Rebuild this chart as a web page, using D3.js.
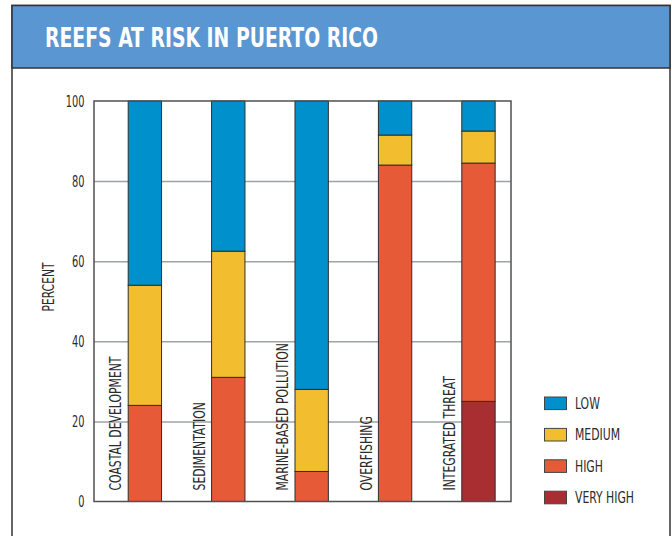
<!DOCTYPE html>
<html>
<head>
<meta charset="utf-8">
<script src="https://cdn.jsdelivr.net/npm/d3@7/dist/d3.min.js"></script>
<style>
  html, body { margin: 0; padding: 0; background: #fff; }
  svg { display: block; }
  text { font-family: "Liberation Sans Narrow", "Arial Narrow", "DejaVu Sans Condensed", sans-serif; }
</style>
</head>
<body>
<svg id="chart" width="672" height="536"></svg>
<script>
const title = "REEFS AT RISK IN PUERTO RICO";
const yAxisLabel = "PERCENT";
const categories = ["COASTAL DEVELOPMENT", "SEDIMENTATION", "MARINE-BASED POLLUTION", "OVERFISHING", "INTEGRATED THREAT"];
const seriesNames = ["VERY HIGH", "HIGH", "MEDIUM", "LOW"];
const veryHigh = [0, 0, 0, 0, 25];
const high = [24, 31, 7.5, 84, 59.5];
const medium = [30, 31.5, 20.5, 7.5, 8];
const low = [46, 37.5, 72, 8.5, 7.5];
const yTicks = [0, 20, 40, 60, 80, 100];
const legendOrder = ["LOW", "MEDIUM", "HIGH", "VERY HIGH"];
const colors = { "LOW": "#0091cd", "MEDIUM": "#f2bd2f", "HIGH": "#e75a38", "VERY HIGH": "#a82e31" };

const svg = d3.select("#chart");
// condense a group of texts by a common factor, calibrated so that one
// member reaches the width measured on the reference
function fitGroup(sel, calibIndex, targetWidth) {
  const nodes = sel.nodes();
  const L0 = nodes[calibIndex].getComputedTextLength();
  const k = L0 > 0 ? targetWidth / L0 : 1;
  nodes.forEach(n => {
    const L = n.getComputedTextLength();
    if (L > 0) d3.select(n).attr("textLength", L * k).attr("lengthAdjust", "spacingAndGlyphs");
  });
}

// frame and title band
svg.append("rect").attr("x", 12).attr("y", 5.5).attr("width", 658).attr("height", 560)
  .attr("fill", "#fff").attr("stroke", "#333").attr("stroke-width", 1.5);
svg.append("rect").attr("x", 12).attr("y", 5.5).attr("width", 658).attr("height", 62.5)
  .attr("fill", "#5a97d2").attr("stroke", "#333").attr("stroke-width", 1.5);
svg.append("text").attr("x", 45).attr("y", 46.5).attr("fill", "#fff")
  .attr("font-size", 27).attr("font-weight", "bold").attr("textLength", 333)
  .attr("lengthAdjust", "spacingAndGlyphs").text(title);

const x = d3.scaleBand().domain(categories).range([94, 511]).padding(0);
const y = d3.scaleLinear().domain([0, 100]).range([501.5, 101]);

// gridlines
const grid = svg.append("g").attr("transform", `translate(94,0)`)
  .call(d3.axisLeft(y).tickValues(yTicks.filter(t => t > 0 && t < 100)).tickSize(-(511 - 94)).tickFormat(""));
grid.select(".domain").remove();
grid.selectAll("line").attr("stroke", "#9ea3a8").attr("stroke-width", 1.5);

// tick labels
const yAxis = svg.append("g").attr("transform", `translate(94,0)`)
  .call(d3.axisLeft(y).tickValues(yTicks).tickSize(0).tickPadding(9.5));
yAxis.select(".domain").remove();
yAxis.selectAll("text").attr("font-size", 16).attr("fill", "#2b2b2b")
  .style("font-family", '"Liberation Sans Narrow", "Arial Narrow", "DejaVu Sans Condensed", sans-serif');
fitGroup(yAxis.selectAll("text"), yTicks.length - 1, 18.7);

// y label
const yl = svg.append("text").attr("transform", "translate(54,287) rotate(-90)")
  .attr("text-anchor", "middle").attr("font-size", 15).attr("fill", "#2b2b2b").text(yAxisLabel);
fitGroup(yl, 0, 49);

// stacked bars
const rows = categories.map((c, i) => ({ cat: c, "VERY HIGH": veryHigh[i], "HIGH": high[i], "MEDIUM": medium[i], "LOW": low[i] }));
const stack = d3.stack().keys(seriesNames)(rows);
const bw = x.bandwidth();
stack.forEach(layer => {
  svg.append("g").selectAll("rect")
    .data(layer.filter(d => d[1] - d[0] > 0))
    .join("rect")
    .attr("x", d => x(d.data.cat) + bw * 0.41)
    .attr("width", bw * 0.40)
    .attr("y", d => y(d[1]))
    .attr("height", d => y(d[0]) - y(d[1]))
    .attr("fill", colors[layer.key])
    .attr("stroke", "#2e2e2e").attr("stroke-width", 1);
});

// category labels (rotated)
const cl = svg.append("g").selectAll("text").data(categories).join("text")
  .attr("transform", d => `translate(${x(d) + bw * 0.26},${y(0) - 11}) rotate(-90)`)
  .attr("dy", "0.36em").attr("font-size", 16).attr("fill", "#2b2b2b").text(d => d);
fitGroup(cl, 0, 134);

// plot frame
svg.append("path")
  .attr("d", `M94,${y(0)}V${y(100)}H511V${y(0)}Z`)
  .attr("fill", "none").attr("stroke", "#505050").attr("stroke-width", 1.5);

// legend
const lg = svg.append("g").selectAll("g").data(legendOrder).join("g")
  .attr("transform", (d, i) => `translate(544.5,${403.3 + i * 31.4})`);
lg.append("rect").attr("x", 0).attr("y", -6.3).attr("width", 22).attr("height", 12.6)
  .attr("fill", d => colors[d]).attr("stroke", "#444").attr("stroke-width", 1);
const lt = lg.append("text").attr("x", 30.5).attr("dy", "0.36em").attr("font-size", 15.5).attr("fill", "#2b2b2b")
  .text(d => d);
fitGroup(lt, 3, 59);
</script>
</body>
</html>
